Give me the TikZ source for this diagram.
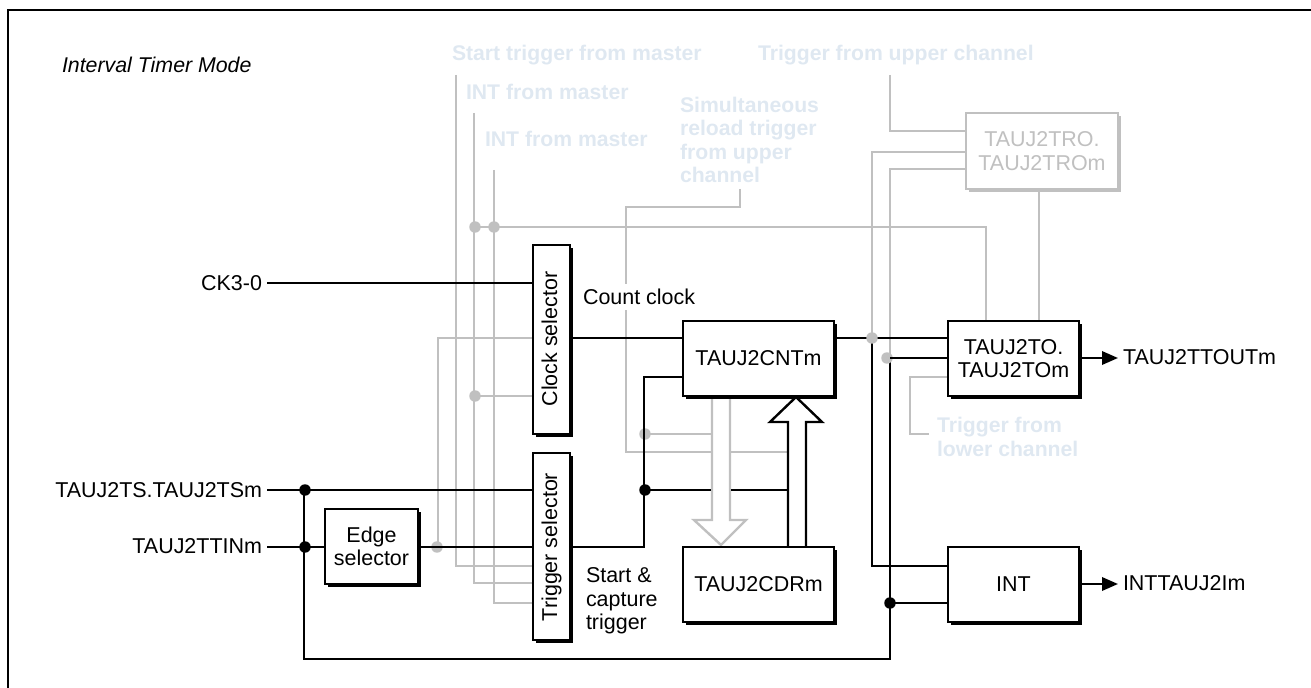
\documentclass[tikz,border=0pt]{standalone}
\usepackage{fontspec}
\setmainfont{Liberation Sans}
\usetikzlibrary{arrows.meta}
\definecolor{lg}{HTML}{C0C0C0}
\definecolor{pale}{HTML}{DFE8F1}
\tikzset{
 every node/.style={inner sep=0pt,outer sep=0pt,font=\fontsize{16.1}{17.5}\selectfont},
 blk/.style={draw=black,line width=1.9pt,fill=white,align=center},
 gbx/.style={draw=lg,line width=1.9pt,fill=white,align=center,text=lg},
 wire/.style={draw=black,line width=1.8pt},
 gwire/.style={draw=lg,line width=1.8pt},
 dot/.style={circle,fill=black,minimum size=8.6pt},
 gdot/.style={circle,fill=lg,minimum size=8.6pt},
 lab/.style={anchor=west,align=left,text=black},
 pl/.style={anchor=west,align=left,text=pale,font=\fontsize{15.9}{17.4}\selectfont\bfseries},
 tip/.style={-{Triangle[length=12pt,width=10pt]}}
}
\newcommand{\bx}[8]{% name x1 y1 x2 y2 text boxstyle shadowcolour
 \pgfmathsetmacro\bw{(#4-#2)*0.75}\pgfmathsetmacro\bh{(#5-#3)*0.75}
 \fill[#8] (#2+3,#3+3) rectangle (#4+3,#5+3);
 \node[#7,minimum width=\bw pt,minimum height=\bh pt] (#1) at ({(#2+#4)/2},{(#3+#5)/2}) {#6};}
\begin{document}
\begin{tikzpicture}[x=0.75pt,y=-0.75pt]
\useasboundingbox (0,0) rectangle (1311,688);
\coordinate (fa) at (8,688);
\coordinate (fb) at (8,10);
\coordinate (fc) at (1311,10);
\draw[black,line width=2pt] (fa) -- (fb) -- (fc);

% grey wires
\coordinate (sA) at (456,75);
\coordinate (sB) at (474,113);
\coordinate (sC) at (494,170);
\coordinate (sD) at (740,189);
\coordinate (sE) at (890,75);
\draw[gwire] (sA) -- (456,566) -- (532,566);
\draw[gwire] (sB) -- (474,583) -- (532,583);
\draw[gwire] (sC) -- (494,603) -- (532,603);
\draw[gwire] (438,547) -- (438,338) -- (532,338);
\draw[gwire] (475,396) -- (532,396);
\draw[gwire] (475,227) -- (986,227) -- (986,321);
\draw[gwire] (sD) -- (740,207) -- (626,207) -- (626,452) -- (788,452);
\draw[gwire] (645,434) -- (712,434);
\draw[gwire] (sE) -- (890,131) -- (966,131);
\draw[gwire] (872,338) -- (872,152) -- (966,152);
\draw[gwire] (890,358) -- (890,169) -- (966,169);
\draw[gwire] (1039,190) -- (1039,321);
\draw[gwire] (948,377) -- (910,377) -- (910,434) -- (929,434);
\node[gdot] (d1) at (475,227) {};
\node[gdot] (d2) at (494,227) {};
\node[gdot] (d3) at (475,396) {};
\node[gdot] (d4) at (437,547) {};
\node[gdot] (d5) at (645,434) {};

% hollow arrow CNT -> CDR (grey)
\draw[gwire,fill=white,line join=miter] (712,397) -- (712,520) -- (694,520) -- (721,545) -- (746,520) -- (730,520) -- (730,397);
% black wires
\draw[wire] (267,283) -- (533,283);
\draw[wire] (267,490) -- (533,490);
\draw[wire] (267,547) -- (325,547);
\draw[wire] (418,547) -- (533,547);
\draw[wire] (304,490) -- (304,659) -- (890,659) -- (890,358) -- (948,358);
\draw[wire] (890,603) -- (948,603);
\draw[wire] (570,338) -- (683,338);
\draw[wire] (834,338) -- (948,338);
\draw[wire] (872,338) -- (872,566) -- (948,566);
\draw[wire] (570,547) -- (644,547) -- (644,377) -- (683,377);
\draw[wire] (645,490) -- (711,490);
\draw[wire] (731,490) -- (788,490);
% hollow arrow CDR -> CNT
\draw[wire,fill=white,line join=miter] (788,546) -- (788,422) -- (770,422) -- (796,397) -- (822,422) -- (806,422) -- (806,546);
\node[dot] (b1) at (305,490) {};
\node[dot] (b2) at (305,547) {};
\node[dot] (b3) at (645,490) {};
\node[dot] (b4) at (890,603) {};
\node[gdot] (g1) at (872,338) {};
\node[gdot] (g2) at (887,358) {};
\draw[wire] (890,358) -- (948,358);

% boxes
\bx{tro}{966}{113}{1118}{189}{TAUJ2TRO.\\TAUJ2TROm}{gbx}{lg}
\bx{cs}{533}{245}{570}{434}{}{blk}{black}
\node[rotate=90,anchor=base] (cst) at (557,339) {Clock selector};
\bx{ts}{533}{453}{570}{640}{}{blk}{black}
\node[rotate=90,anchor=base] (tst) at (557,547) {Trigger selector};
\bx{edge}{325}{509}{418}{584}{Edge\\selector}{blk}{black}
\bx{cnt}{683}{321}{834}{396}{TAUJ2CNTm}{blk}{black}
\bx{cdr}{683}{547}{834}{622}{TAUJ2CDRm}{blk}{black}
\bx{to}{948}{321}{1079}{396}{TAUJ2TO.\\TAUJ2TOm}{blk}{black}
\bx{int}{948}{547}{1079}{622}{INT}{blk}{black}

% outputs
\coordinate (o1) at (1118,358);
\coordinate (o2) at (1118,584);
\draw[wire,tip] (1082,358) -- (o1);
\draw[wire,tip] (1082,584) -- (o2);

% labels
\node[lab] (l1) at (1123,357) {TAUJ2TTOUTm};
\node[lab] (l2) at (1123,583) {INTTAUJ2Im};
\node[anchor=east] (l3) at (262,283) {CK3-0};
\node[anchor=east] (l4) at (262,490) {TAUJ2TS.TAUJ2TSm};
\node[anchor=east] (l5) at (262,546) {TAUJ2TTINm};
\node[lab,fill=white,minimum height=18.75pt] (l6) at (583,297) {Count clock};
\node[lab] (l7) at (586,601) {Start \&\\capture\\trigger};
\node[lab,font=\fontsize{16}{17.5}\selectfont\itshape] (l8) at (62,65) {Interval Timer Mode};
\node[pl] (p1) at (452,55) {Start trigger from master};
\node[pl] (p2) at (466,92) {INT from master};
\node[pl] (p3) at (485,139) {INT from master};
\node[pl] (p4) at (680,140) {Simultaneous\\reload trigger\\from upper\\channel};
\node[pl] (p5) at (758,55) {Trigger from upper channel};
\node[pl] (p6) at (937,437) {Trigger from\\lower channel};
\end{tikzpicture}
\end{document}
